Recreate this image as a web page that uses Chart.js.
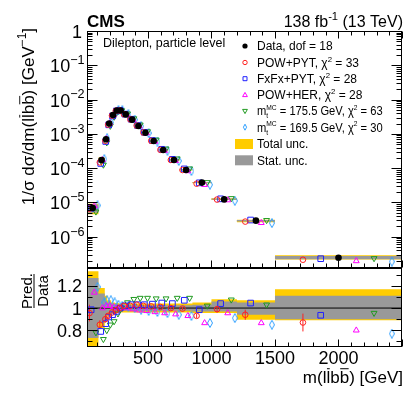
<!DOCTYPE html>
<html>
<head>
<meta charset="utf-8">
<script src="https://cdn.jsdelivr.net/npm/chart.js@4.4.0/dist/chart.umd.min.js"></script>
<style>
html, body { margin: 0; padding: 0; background: #fff; }
#wrap { position: relative; width: 407px; height: 394px; }
canvas { position: absolute; left: 0; top: 0; }
</style>
</head>
<body>
<div id="wrap">
  <canvas id="topChart" width="407" height="394"></canvas>
  <canvas id="ratioChart" width="407" height="394"></canvas>
</div>
<script>
// bin edges of m(lbb) in GeV
const binEdges = [20, 110, 160, 180, 210, 240, 270, 300, 350, 400, 450, 510, 580, 660, 750, 850, 1000, 1200, 1500, 2500];

// normalised cross section, data
const dataValues = [6.9e-6, 1.74e-4, 7.0e-4, 2.0e-3, 3.55e-3, 4.8e-3, 4.8e-3, 3.7e-3, 2.6e-3, 1.7e-3,
  1.08e-3, 6.2e-4, 3.4e-4, 1.74e-4, 8.9e-5, 3.8e-5, 1.23e-5, 2.95e-6, 2.46e-7];

// relative uncertainties
const totUncUp   = [0.33, 0.18, 0.11, 0.07, 0.05, 0.045, 0.04, 0.04, 0.04, 0.04, 0.04, 0.04, 0.04, 0.04, 0.04, 0.05, 0.08, 0.07, 0.17];
const totUncDown = [0.34, 0.18, 0.11, 0.07, 0.05, 0.045, 0.04, 0.04, 0.04, 0.04, 0.04, 0.04, 0.04, 0.04, 0.04, 0.045, 0.045, 0.105, 0.11];
const statUncUp   = [0.27, 0.13, 0.06, 0.04, 0.03, 0.025, 0.025, 0.025, 0.025, 0.025, 0.025, 0.025, 0.025, 0.025, 0.025, 0.03, 0.06, 0.05, 0.11];
const statUncDown = [0.27, 0.13, 0.06, 0.04, 0.03, 0.025, 0.025, 0.025, 0.025, 0.025, 0.025, 0.025, 0.025, 0.025, 0.025, 0.03, 0.03, 0.06, 0.10];

// prediction / data
const ratioPowPyt  = [0.955, 0.85, 0.90, 0.93, 0.96, 0.98, 1.00, 1.02, 1.02, 1.03, 1.02, 1.015, 1.01, 1.00, 0.995, 0.93, 0.99, 0.94, 0.87];
const ratioFxfxPyt = [0.985, 0.79, 0.86, 0.92, 0.94, 0.97, 1.00, 1.02, 1.03, 1.03, 1.03, 1.035, 1.045, 1.04, 1.07, 0.985, 1.04, 1.045, 0.935];
const ratioPowHer  = [1.14, 1.00, 1.02, 1.02, 1.01, 1.00, 1.00, 1.00, 0.99, 0.98, 0.975, 0.965, 0.955, 0.945, 0.93, 0.866, 0.955, 0.866, 0.80];
const ratioMt1755  = [0.78, 0.72, 0.80, 0.85, 0.88, 0.95, 1.00, 1.05, 1.08, 1.09, 1.09, 1.085, 1.085, 1.09, 1.09, 1.02, 1.075, 1.03, 0.955];
const ratioMt1695  = [1.19, 1.05, 1.07, 1.07, 1.05, 1.03, 1.02, 1.01, 1.00, 0.985, 0.975, 0.965, 0.955, 0.94, 0.93, 0.866, 0.91, 0.85, 0.77];
// POW+PYT MC statistical uncertainty on the ratio
const errPowPyt    = [0.075, 0.04, 0.03, 0.02, 0.015, 0.01, 0.01, 0.01, 0.01, 0.01, 0.01, 0.01, 0.01, 0.015, 0.015, 0.02, 0.03, 0.045, 0.08];

const xTickLabels = [500, 1000, 1500, 2000];
const ratioTickLabels = [0.8, 1, 1.2];
const logDecades = [-6, -5, -4, -3, -2, -1, 0];

const FONT = '"Liberation Sans", Arial, sans-serif';

function diamondImage(color) {
  const c = document.createElement('canvas');
  c.width = 6; c.height = 10;
  const g = c.getContext('2d');
  g.strokeStyle = color;
  g.lineWidth = 1;
  g.beginPath();
  g.moveTo(3, 0.5); g.lineTo(5.5, 5); g.lineTo(3, 9.5); g.lineTo(0.5, 5);
  g.closePath();
  g.stroke();
  return c;
}

const models = [
  { name: 'POW+PYT', chi2: '33', ratio: ratioPowPyt, color: '#ff2020', style: 'circle', rot: 0, r: 2.8, shift: -2 },
  { name: 'FxFx+PYT', chi2: '28', ratio: ratioFxfxPyt, color: '#2020ff', style: 'rect', rot: 0, r: 4, shift: -1 },
  { name: 'POW+HER', chi2: '28', ratio: ratioPowHer, color: '#ff00ff', style: 'triangle', rot: 0, r: 3.4, shift: 1 },
  { name: '175.5', chi2: '63', ratio: ratioMt1755, color: '#209a20', style: 'triangle', rot: 180, r: 3.4, shift: 2 },
  { name: '169.5', chi2: '30', ratio: ratioMt1695, color: '#30a0ff', style: diamondImage('#30a0ff'), rot: 0, r: 3, shift: 3 }
];

function binCentre(i, shift) {
  const lo = binEdges[i], hi = binEdges[i + 1];
  return lo + (hi - lo) * (0.5 + 0.14 * shift);
}

function stepData(values) {
  const pts = values.map((v, i) => ({ x: binEdges[i], y: v }));
  pts.push({ x: binEdges[values.length], y: values[values.length - 1] });
  return pts;
}

function bandSets(centre, up, down, color, order) {
  return [
    { type: 'line', data: stepData(centre.map((v, i) => v * (1 + up[i]))), stepped: 'before', showLine: true,
      borderColor: 'rgba(0,0,0,0)', pointRadius: 0, fill: false, order: order },
    { type: 'line', data: stepData(centre.map((v, i) => v * (1 - down[i]))), stepped: 'before', showLine: true,
      borderColor: 'rgba(0,0,0,0)', backgroundColor: color, pointRadius: 0, fill: '-1', order: order }
  ];
}

function modelSet(m, values) {
  return {
    type: 'scatter', showLine: false, order: 2,
    data: values.map((v, i) => ({ x: binCentre(i, m.shift), y: v })),
    pointStyle: m.style, pointRotation: m.rot, pointRadius: m.r, pointHoverRadius: m.r,
    borderColor: m.color, backgroundColor: 'rgba(0,0,0,0)', pointBorderWidth: 1
  };
}

// vertical error bars as one broken line
function errorBarSet(m, values, errs) {
  const pts = [];
  values.forEach((v, i) => {
    const x = binCentre(i, m.shift);
    pts.push({ x: x, y: v - errs[i] }, { x: x, y: v + errs[i] }, { x: x, y: null });
  });
  return { type: 'line', showLine: true, spanGaps: false, order: 3, pointRadius: 0, data: pts,
    borderColor: m.color, borderWidth: 1 };
}

// rich text: strings, {t, over}, {sup, sub}
function drawRich(ctx, parts, x, y, size, align, bold, supScale) {
  const small = size * (supScale || 0.7);
  const items = parts.map(p => (typeof p === 'string' ? { t: p } : p));
  const widths = items.map(p => {
    if (p.t === undefined) {
      ctx.font = small + 'px ' + FONT;
      return Math.max(p.sup ? ctx.measureText(p.sup).width : 0, p.sub ? ctx.measureText(p.sub).width : 0);
    }
    ctx.font = (bold ? 'bold ' : '') + size + 'px ' + FONT;
    return ctx.measureText(p.t).width;
  });
  const total = widths.reduce((a, b) => a + b, 0);
  let cx = align === 'right' ? x - total : align === 'center' ? x - total / 2 : x;
  ctx.textAlign = 'left';
  ctx.textBaseline = 'alphabetic';
  items.forEach((p, i) => {
    if (p.t === undefined) {
      ctx.font = small + 'px ' + FONT;
      if (p.sup) ctx.fillText(p.sup, cx, y - size * 0.45);
      if (p.sub) ctx.fillText(p.sub, cx, y + size * 0.25);
    } else {
      ctx.font = (bold ? 'bold ' : '') + size + 'px ' + FONT;
      ctx.fillText(p.t, cx, y);
      if (p.over) {
        ctx.beginPath();
        ctx.moveTo(cx + 0.5, y - size * 0.84);
        ctx.lineTo(cx + widths[i] - 0.5, y - size * 0.84);
        ctx.stroke();
      }
    }
    cx += widths[i];
  });
}

const rootAxes = {
  id: 'rootAxes',
  afterDraw(chart, args, o) {
    const { ctx, chartArea: a } = chart;
    const xs = chart.scales.x, ys = chart.scales.y;
    const L = Math.round(a.left) + 0.5, R = Math.round(a.right) - 0.5;
    const T = Math.round(a.top) + 0.5, B = Math.round(a.bottom) - 0.5;
    ctx.save();
    ctx.strokeStyle = '#000';
    ctx.lineWidth = 1;
    const line = (x1, y1, x2, y2) => { ctx.beginPath(); ctx.moveTo(x1, y1); ctx.lineTo(x2, y2); ctx.stroke(); };
    ctx.strokeRect(L, T, R - L, B - T);
    for (let v = Math.ceil(xs.min / o.xMinor) * o.xMinor; v <= xs.max; v += o.xMinor) {
      const px = Math.round(xs.getPixelForValue(v)) + 0.5;
      const len = v % o.xMajor === 0 ? o.xMajorLen : o.xMinorLen;
      if (o.xBottom) line(px, B, px, B - len);
      if (o.xTop) line(px, T, px, T + len);
    }
    const yt = [];
    if (o.log) {
      for (let d = -8; d <= 0; d++) {
        for (let k = 1; k <= 9; k++) {
          const v = k * Math.pow(10, d);
          if (v >= ys.min && v <= ys.max * 1.0001) yt.push([v, k === 1]);
        }
      }
    } else {
      for (let n = Math.ceil(ys.min / o.yMinor - 1e-6); n * o.yMinor <= ys.max + 1e-9; n++) {
        const v = n * o.yMinor;
        const q = v / o.yMajor;
        yt.push([v, Math.abs(q - Math.round(q)) < 1e-6]);
      }
    }
    yt.forEach(([v, major]) => {
      const py = Math.round(ys.getPixelForValue(v)) + 0.5;
      const len = major ? o.yMajorLen : o.yMinorLen;
      line(L, py, L + len, py);
      line(R, py, R - len, py);
    });
    ctx.restore();
  }
};

const mllbb = ['m(l', { t: 'l', over: true }, 'b', { t: 'b', over: true }, ')'];

const topText = {
  id: 'topText',
  afterDraw(chart) {
    const { ctx } = chart;
    const ys = chart.scales.y;
    ctx.save();
    ctx.fillStyle = '#000';
    ctx.strokeStyle = '#000';
    ctx.lineWidth = 1;
    // y tick labels
    logDecades.forEach(d => {
      const py = ys.getPixelForValue(Math.pow(10, d));
      if (d === 0) drawRich(ctx, ['1'], 82, py + 7, 18, 'right');
      else drawRich(ctx, ['10', { sup: '\u2212' + (-d) }], 84.5, py + 7, 18, 'right');
    });
    // header
    drawRich(ctx, ['CMS'], 87, 27, 17, 'left', true);
    drawRich(ctx, ['138 fb', { sup: '-1' }, ' (13 TeV)'], 403, 27, 16, 'right');
    drawRich(ctx, ['Dilepton, particle level'], 103, 47, 12.5, 'left');
    // y title
    ctx.save();
    ctx.translate(34, 28);
    ctx.rotate(-Math.PI / 2);
    ctx.lineWidth = 0.9;
    drawRich(ctx, ['1/\u03c3 d\u03c3/d'].concat(mllbb, [' [GeV', { sup: '\u22121' }, ']']), 0, 0, 17, 'right');
    ctx.restore();
    // legend
    const rows = [46, 62.5, 78.7, 95, 111, 127.2, 144, 160.3];
    const mx = 245, tx = 257, fs = 12;
    ctx.beginPath();
    ctx.arc(mx, rows[0], 2.6, 0, Math.PI * 2);
    ctx.fill();
    drawRich(ctx, ['Data, dof = 18'], tx, rows[0] + 4.4, fs, 'left');
    models.forEach((m, k) => {
      const y = rows[k + 1];
      ctx.strokeStyle = m.color;
      ctx.beginPath();
      if (k === 0) ctx.arc(mx, y, 2.2, 0, Math.PI * 2);
      else if (k === 1) ctx.rect(mx - 2, y - 2, 4, 4);
      else if (k === 2) { ctx.moveTo(mx, y - 2.6); ctx.lineTo(mx + 2.4, y + 1.6); ctx.lineTo(mx - 2.4, y + 1.6); ctx.closePath(); }
      else if (k === 3) { ctx.moveTo(mx, y + 2.6); ctx.lineTo(mx + 2.4, y - 1.6); ctx.lineTo(mx - 2.4, y - 1.6); ctx.closePath(); }
      else { ctx.moveTo(mx, y - 3); ctx.lineTo(mx + 1.6, y); ctx.lineTo(mx, y + 3); ctx.lineTo(mx - 1.6, y); ctx.closePath(); }
      ctx.stroke();
      ctx.fillStyle = '#000';
      if (k < 3) {
        drawRich(ctx, [m.name + ', \u03c7', { sup: '2' }, ' = ' + m.chi2], tx, y + 4.4, fs, 'left', false, 0.65);
      } else {
        ctx.save();
        ctx.translate(tx, 0);
        ctx.scale(0.93, 1);
        drawRich(ctx, ['m', { sup: 'MC', sub: 't' }, ' = ' + m.name + ' GeV, \u03c7', { sup: '2' }, ' = ' + m.chi2], 0, y + 4.4, fs, 'left', false, 0.6);
        ctx.restore();
      }
    });
    ctx.fillStyle = '#ffcc00';
    ctx.fillRect(235, rows[6] - 5, 18, 10);
    ctx.fillStyle = '#999999';
    ctx.fillRect(235, rows[7] - 5, 18, 10);
    ctx.fillStyle = '#000';
    drawRich(ctx, ['Total unc.'], tx, rows[6] + 4.4, fs, 'left');
    drawRich(ctx, ['Stat. unc.'], tx, rows[7] + 4.4, fs, 'left');
    ctx.restore();
  }
};

const ratioText = {
  id: 'ratioText',
  afterDraw(chart) {
    const { ctx } = chart;
    const xs = chart.scales.x, ys = chart.scales.y;
    ctx.save();
    ctx.fillStyle = '#000';
    ctx.strokeStyle = '#000';
    ctx.lineWidth = 1;
    ratioTickLabels.forEach(v => {
      drawRich(ctx, [String(v)], 82, ys.getPixelForValue(v) + 6.5, 18, 'right');
    });
    xTickLabels.forEach(v => {
      drawRich(ctx, [String(v)], xs.getPixelForValue(v), 364, 18, 'center');
    });
    drawRich(ctx, mllbb.concat([' [GeV]']), 403, 383, 17, 'right');
    // Pred./Data
    ctx.save();
    ctx.translate(33.5, 291);
    ctx.rotate(-Math.PI / 2);
    drawRich(ctx, ['Pred.'], 0, -2, 15, 'center');
    drawRich(ctx, ['Data'], 0, 14, 15, 'center');
    ctx.beginPath();
    ctx.moveTo(-17, 0.5);
    ctx.lineTo(17, 0.5);
    ctx.stroke();
    ctx.restore();
    ctx.restore();
  }
};

// upper panel
const topDatasets = []
  .concat(bandSets(dataValues, totUncUp, totUncDown, '#ffcc00', 20))
  .concat(bandSets(dataValues, statUncUp, statUncDown, '#999999', 15))
  .concat(models.map(m => modelSet(m, dataValues.map((v, i) => v * m.ratio[i]))))
  .concat([{
    type: 'scatter', showLine: false, order: 0,
    data: dataValues.map((v, i) => ({ x: binCentre(i, 0), y: v })),
    pointStyle: 'circle', pointRadius: 3.3, pointHoverRadius: 3.3,
    borderColor: '#000', backgroundColor: '#000', pointBorderWidth: 0
  }]);

new Chart(document.getElementById('topChart'), {
  type: 'scatter',
  data: { datasets: topDatasets },
  options: {
    responsive: false, animation: false, devicePixelRatio: 1, events: [],
    layout: { padding: { left: 87, right: 4, top: 31, bottom: 126 } },
    scales: {
      x: { type: 'linear', min: 20, max: 2500, display: false },
      y: { type: 'logarithmic', min: 1.23e-7, max: 1, display: false }
    },
    plugins: {
      legend: { display: false }, tooltip: { enabled: false },
      rootAxes: { log: true, xMinor: 100, xMajor: 500, xMajorLen: 7, xMinorLen: 4, xTop: true, xBottom: true,
        yMajorLen: 10, yMinorLen: 5 }
    }
  },
  plugins: [rootAxes, topText]
});

// ratio panel
const ones = dataValues.map(() => 1);
const ratioDatasets = []
  .concat(bandSets(ones, totUncUp, totUncDown, '#ffcc00', 20))
  .concat(bandSets(ones, statUncUp, statUncDown, '#999999', 15))
  .concat([{
    type: 'line', showLine: true, order: 5, pointRadius: 0,
    data: [{ x: binEdges[0], y: 1 }, { x: binEdges[binEdges.length - 1], y: 1 }],
    borderColor: '#000', borderWidth: 1
  }])
  .concat([errorBarSet(models[0], ratioPowPyt, errPowPyt)])
  .concat(models.map(m => modelSet(m, m.ratio)));

new Chart(document.getElementById('ratioChart'), {
  type: 'scatter',
  data: { datasets: ratioDatasets },
  options: {
    responsive: false, animation: false, devicePixelRatio: 1, events: [],
    layout: { padding: { left: 87, right: 4, top: 268, bottom: 47 } },
    scales: {
      x: { type: 'linear', min: 20, max: 2500, display: false },
      y: { type: 'linear', min: 0.65, max: 1.36, display: false }
    },
    plugins: {
      legend: { display: false }, tooltip: { enabled: false },
      rootAxes: { log: false, xMinor: 100, xMajor: 500, xMajorLen: 7, xMinorLen: 4, xTop: false, xBottom: true,
        yMinor: 0.1, yMajor: 0.2, yMajorLen: 10, yMinorLen: 5 }
    }
  },
  plugins: [rootAxes, ratioText]
});
</script>
</body>
</html>
